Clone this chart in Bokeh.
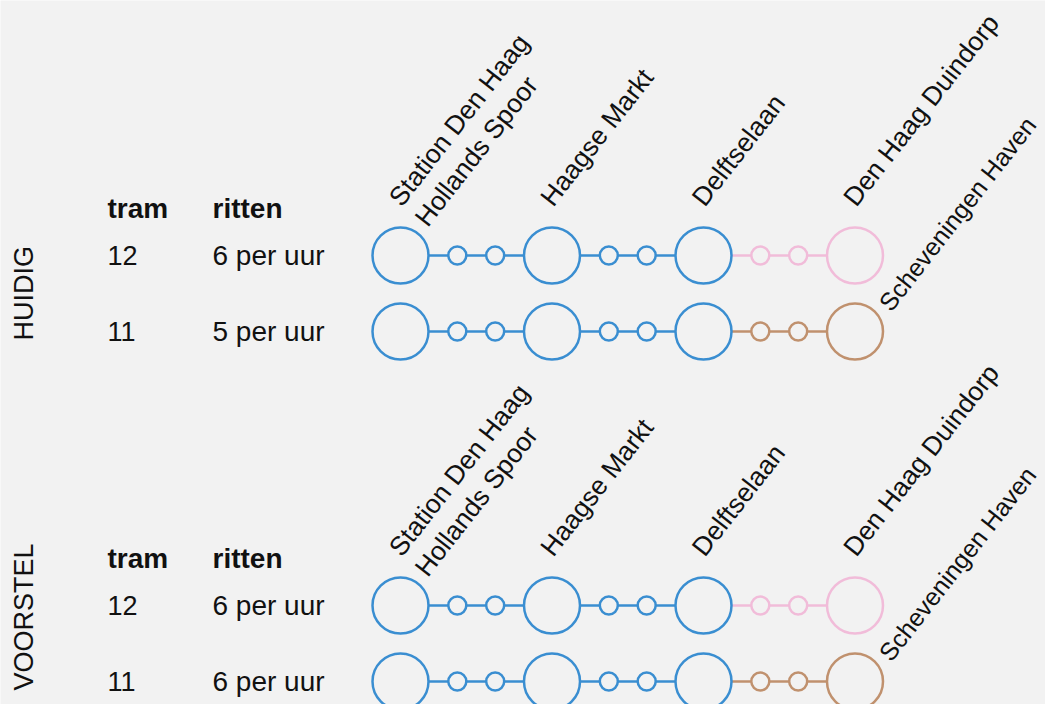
from bokeh.plotting import figure
from bokeh.models import Range1d, ColumnDataSource
from bokeh.core.properties import value
from bokeh.embed import file_html
from bokeh.resources import INLINE
import math

# ---------------- data ----------------
sections = ["HUIDIG", "VOORSTEL"]
trams = ["12", "11"]
ritten = {
    "HUIDIG": ["6 per uur", "5 per uur"],
    "VOORSTEL": ["6 per uur", "6 per uur"],
}
shared_stations = ["Station Den Haag\nHollands Spoor", "Haagse Markt", "Delftselaan"]
termini = ["Den Haag Duindorp", "Scheveningen Haven"]     # per tram (12, 11)
intermediate_stops = [3 / 8, 5 / 8]                       # fraction between stations
header_tram = "tram"
header_ritten = "ritten"

# ---------------- style / layout ----------------
BG = "#f2f2f2"
BLUE = "#3a8ed1"
BRANCH = ["#f1bcd9", "#c0916e"]          # tram 12 branch, tram 11 branch
FONT = "Liberation Sans"
W, H = 1045, 704
X0, SP = 400, 151.5                      # first station x, station spacing (px)
ROW0, ROWGAP, SECGAP = 255, 76, 350
COL_TRAM, COL_RIT, COL_SEC = 107, 212, 33
BIG, SMALL, LW = 56, 18, 2.5
FS_ROW, FS_LAB, FS_TERM = 28, 26.5, 25
LAB_ANGLE = math.radians(52)
SHIFT = 10                               # baseline correction (px, along text's up)

p = figure(width=W, height=H, output_backend="svg", toolbar_location=None,
           x_range=Range1d(0, W), y_range=Range1d(H, 0),
           background_fill_color=BG, border_fill_color=BG, outline_line_color=None,
           min_border=0)
p.axis.visible = False
p.grid.visible = False

def text(x, y, t, size, bold=False, angle=0.0, align="left", baseline="alphabetic"):
    # move anchor "up" in the text's own frame to compensate baseline placement
    x -= SHIFT * math.sin(angle)
    y -= SHIFT * math.cos(angle)
    p.text(x=[x], y=[y], text=[t], angle=angle, text_font=value(FONT),
           text_font_size=f"{size}px", text_font_style="bold" if bold else "normal",
           text_color="#111111", text_align=align, text_baseline=baseline)

n_st = len(shared_stations) + 1
for s, sec in enumerate(sections):
    top = ROW0 + s * SECGAP
    rows_y = [top + r * ROWGAP for r in range(len(trams))]
    # headers
    text(COL_TRAM, top - 37, header_tram, FS_ROW, bold=True)
    text(COL_RIT, top - 37, header_ritten, FS_ROW, bold=True)
    # section label (vertical)
    text(COL_SEC, rows_y[-1] + 9, sec, FS_ROW - 1, angle=math.pi / 2)
    for r, tram in enumerate(trams):
        y = rows_y[r]
        text(COL_TRAM, y + 10, tram, FS_ROW - 1)
        text(COL_RIT, y + 10, ritten[sec][r], FS_ROW)
        # stops
        pos = []
        kinds = []
        for i in range(n_st):
            pos.append(float(i)); kinds.append("big")
            if i < n_st - 1:
                for f in intermediate_stops:
                    pos.append(i + f); kinds.append("small")
        last_shared = len(shared_stations) - 1 + 1e-9
        cols = [BLUE if q <= last_shared else BRANCH[r] for q in pos]
        xs = [X0 + q * SP for q in pos]
        seg_cols = [BLUE if pos[k + 1] <= last_shared else BRANCH[r]
                    for k in range(len(pos) - 1)]
        p.segment(x0=xs[:-1], y0=[y] * (len(xs) - 1), x1=xs[1:], y1=[y] * (len(xs) - 1),
                  line_color=seg_cols, line_width=LW)
        src = ColumnDataSource(dict(x=xs, y=[y] * len(xs), c=cols,
                                    s=[BIG if k == "big" else SMALL for k in kinds]))
        p.scatter("x", "y", size="s", source=src, fill_color=BG, line_color="c",
                  line_width=LW)
    # station labels
    labels = shared_stations + [termini[0]]
    for i, lab in enumerate(labels):
        ax = X0 + i * SP + 2
        ay = rows_y[0] - 47
        for k, line in enumerate(lab.split("\n")):
            d = 33 * k
            text(ax + d * math.sin(LAB_ANGLE), ay + d * math.cos(LAB_ANGLE), line, FS_LAB,
                 angle=LAB_ANGLE)
    # branch terminus label for second tram
    text(X0 + (n_st - 1) * SP + 37, rows_y[1] - 18, termini[1], FS_TERM, angle=LAB_ANGLE)

html = file_html(p, INLINE)
html = html.replace("<body>", '<body style="background:%s">' % BG, 1)
open("out.html", "w").write(html)
